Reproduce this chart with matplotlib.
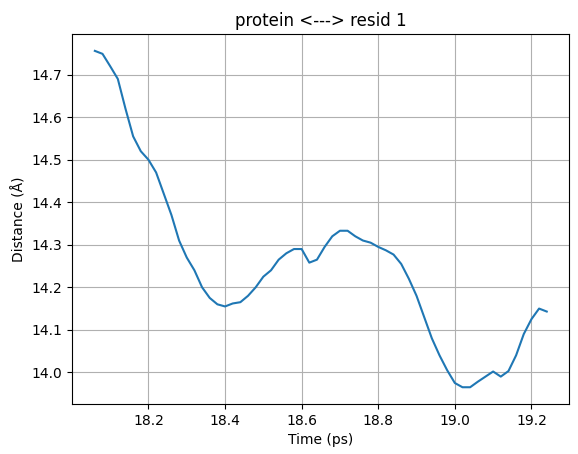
import numpy as np
import matplotlib
matplotlib.use("Agg")
import matplotlib.pyplot as plt

distance = [14.756, 14.749, 14.72, 14.69, 14.62, 14.555, 14.52, 14.50, 14.47, 14.42,
            14.37, 14.31, 14.27, 14.24, 14.20, 14.175, 14.16, 14.155, 14.162, 14.165,
            14.18, 14.20, 14.225, 14.24, 14.265, 14.28, 14.29, 14.29, 14.258, 14.265,
            14.295, 14.32, 14.333, 14.333, 14.32, 14.31, 14.305, 14.295, 14.287, 14.277,
            14.255, 14.22, 14.18, 14.13, 14.08, 14.04, 14.005, 13.975, 13.965, 13.965,
            13.978, 13.99, 14.002, 13.99, 14.003, 14.04, 14.09, 14.125, 14.15, 14.143]
time = np.round(18.06 + 0.02 * np.arange(len(distance)), 2)

fig, ax = plt.subplots(figsize=(5.78, 4.54), dpi=100)
ax.plot(time, distance, color="#1f77b4")
ax.set_title("protein <---> resid 1")
ax.set_xlabel("Time (ps)")
ax.set_ylabel("Distance (Å)")
ax.grid(True)
fig.subplots_adjust(left=0.125, right=0.985, top=0.925, bottom=0.11)
fig.savefig("out.png")
